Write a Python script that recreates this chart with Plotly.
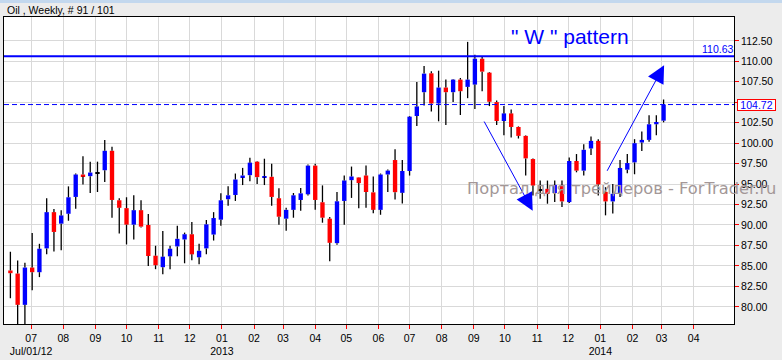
import plotly.graph_objects as go
import pandas as pd

# ---------------- data ----------------
title_text = "Oil , Weekly, # 91 / 101"
first_week = "2012-06-11"

opens = [84.44, 84.07, 80.24, 84.80, 84.23, 87.14, 91.57, 90.16, 91.37, 93.43,
         96.17, 95.97, 96.40, 96.69, 99.07, 93.02, 92.06, 90.04, 91.81, 90.00,
         86.25, 84.84, 86.17, 87.38, 88.23, 88.87, 86.05, 87.14, 88.83, 90.65,
         93.15, 93.67, 95.81, 96.09, 97.74, 95.85, 95.89, 93.27, 90.77, 91.85,
         93.06, 93.75, 97.26, 92.78, 90.77, 87.78, 92.94, 95.48, 95.81, 96.05,
         93.99, 91.85, 96.17, 97.94, 93.93, 96.60, 103.32, 106.23, 108.54, 104.85,
         106.80, 106.23, 107.77, 106.88, 107.16, 110.32, 108.62, 105.02, 102.71, 103.64,
         101.98, 100.89, 98.06, 94.30, 94.42, 93.90, 94.90, 92.80, 97.82, 96.64,
         99.35, 100.28, 94.05, 92.88, 93.81, 96.76, 97.65, 100.08, 100.40, 102.31,
         102.75]
highs = [86.73, 85.65, 85.40, 89.03, 87.70, 93.27, 91.94, 91.81, 94.72, 96.29,
         98.39, 97.74, 97.74, 100.40, 99.56, 93.27, 93.39, 93.63, 93.02, 91.33,
         87.46, 89.27, 87.46, 89.92, 89.07, 90.36, 87.70, 90.60, 91.57, 93.87,
         94.72, 96.29, 96.98, 98.23, 97.80, 98.10, 97.50, 94.48, 92.10, 93.91,
         94.52, 97.38, 97.50, 94.84, 90.97, 94.03, 96.05, 97.14, 95.85, 97.26,
         95.93, 96.29, 96.77, 99.27, 97.94, 103.32, 107.48, 109.43, 108.78, 108.86,
         107.77, 107.85, 107.97, 112.38, 110.80, 110.52, 108.70, 105.22, 104.53, 104.13,
         102.05, 100.95, 98.14, 95.43, 95.43, 95.43, 95.43, 98.26, 98.67, 99.88,
         100.81, 100.49, 94.62, 95.02, 97.94, 98.67, 100.49, 101.42, 103.40, 103.40,
         105.34]
lows = [81.05, 77.40, 77.60, 82.02, 83.63, 86.41, 86.77, 86.90, 90.52, 91.98,
        94.96, 93.91, 94.03, 95.24, 90.89, 88.95, 87.62, 88.23, 89.70, 85.00,
        84.60, 83.99, 84.60, 86.17, 85.32, 85.69, 85.20, 86.41, 88.10, 89.92,
        92.34, 92.94, 94.88, 95.36, 95.00, 94.88, 92.34, 90.04, 89.31, 90.89,
        91.73, 93.59, 91.85, 90.28, 85.56, 87.58, 90.04, 93.31, 92.06, 92.10,
        91.45, 91.25, 94.03, 93.12, 92.64, 96.04, 102.10, 104.61, 103.88, 102.67,
        102.22, 105.02, 103.44, 105.50, 104.17, 106.35, 104.53, 102.22, 100.97, 100.69,
        100.57, 96.04, 93.61, 93.20, 92.60, 92.80, 92.20, 92.68, 96.44, 96.04,
        98.54, 93.61, 91.18, 91.39, 93.41, 96.32, 96.20, 99.03, 100.16, 100.97,
        102.55]
closes = [84.11, 80.24, 84.80, 84.23, 87.10, 91.57, 89.15, 91.17, 93.39, 96.17,
          95.93, 96.41, 96.40, 99.07, 93.06, 92.10, 90.04, 91.81, 89.80, 86.21,
          85.08, 86.13, 87.10, 88.31, 88.87, 86.41, 86.85, 90.08, 90.85, 93.02,
          93.63, 95.56, 96.05, 97.62, 95.85, 95.95, 93.43, 91.01, 91.85, 93.63,
          93.87, 97.26, 93.06, 90.89, 87.82, 92.90, 95.44, 95.93, 95.12, 94.03,
          91.85, 96.17, 96.65, 94.01, 96.60, 103.24, 104.49, 108.50, 104.85, 106.80,
          106.23, 107.77, 106.35, 107.77, 110.32, 108.74, 105.06, 102.71, 103.64, 101.98,
          100.89, 98.14, 94.82, 94.30, 93.81, 94.90, 92.88, 97.82, 96.64, 99.19,
          100.28, 94.95, 92.88, 93.81, 96.97, 97.57, 100.00, 100.40, 102.31, 102.59,
          104.72]

resistance_level = 110.63
last_price = 104.72

y_tick_values = [80.0, 82.5, 85.0, 87.5, 90.0, 92.5, 95.0, 97.5, 100.0,
                 102.5, 105.0, 107.5, 110.0, 112.5]
month_tick_dates = ["2012-07-01", "2012-08-01", "2012-09-01", "2012-10-01",
                    "2012-11-01", "2012-12-01", "2013-01-01", "2013-02-01",
                    "2013-03-01", "2013-04-01", "2013-05-01", "2013-06-01",
                    "2013-07-01", "2013-08-01", "2013-09-01", "2013-10-01",
                    "2013-11-01", "2013-12-01", "2014-01-01", "2014-02-01",
                    "2014-03-01", "2014-04-01"]
month_tick_labels = ["07<br>Jul/01/12", "08", "09", "10", "11", "12", "01<br>2013",
                     "02", "03", "04", "05", "06", "07", "08", "09", "10", "11",
                     "12", "01<br>2014", "02", "03", "04"]

# "W" pattern arrows: (tail date, tail price) -> (tip date, tip price)
arrow_tail_dates = ["2013-09-10 04:00", "2014-01-06 19:00"]
arrow_tail_prices = [102.83, 96.44]
arrow_tip_dates = ["2013-10-27 18:00", "2014-03-03 12:00"]
arrow_tip_prices = [91.74, 109.53]

pattern_label = '" W " pattern'
watermark_text = "Портал для трейдеров - ForTrader.ru"

# ---------------- styling ----------------
UP = "#0000FF"
DOWN = "#FF0000"
FONT = "Liberation Sans, Arial, sans-serif"

dates = pd.date_range(first_week, periods=len(opens), freq="7D")

# wicks (drawn outside the body so bodies stay clean)
wx, wy = [], []
for d, o, h, l, c in zip(dates, opens, highs, lows, closes):
    top, bot = max(o, c), min(o, c)
    wx += [d, d, None, d, d, None]
    wy += [h, top, None, bot, l, None]

body_base, body_height, body_color = [], [], []
for o, c in zip(opens, closes):
    if abs(c - o) < 1e-9:
        body_base.append(o - 0.06)
        body_height.append(0.12)
        body_color.append("#000000")
    else:
        body_base.append(min(o, c))
        body_height.append(abs(c - o))
        body_color.append(UP if c > o else DOWN)

fig = go.Figure()
fig.add_trace(go.Scatter(x=wx, y=wy, mode="lines",
                         line=dict(color="#000000", width=1.3),
                         hoverinfo="skip", showlegend=False))
fig.add_trace(go.Bar(x=dates, y=body_height, base=body_base,
                     width=4.2 * 86400000,
                     marker=dict(color=body_color, line=dict(width=0)),
                     showlegend=False,
                     customdata=list(zip(opens, highs, lows, closes)),
                     hovertemplate="O %{customdata[0]}<br>H %{customdata[1]}"
                                   "<br>L %{customdata[2]}<br>C %{customdata[3]}<extra></extra>"))

# the 105.00 label is hidden behind the last-price box in the reference
y_tick_text = ["" if abs(v - 105.0) < 1e-9 else "%.2f" % v for v in y_tick_values]

fig.update_layout(
    width=782, height=360,
    margin=dict(l=3, r=48, t=17, b=34),
    paper_bgcolor="#ECECEC",
    plot_bgcolor="#FFFFFF",
    barmode="overlay",
    showlegend=False,
    font=dict(family=FONT, size=10.5, color="#000000"),
    xaxis=dict(
        type="date",
        range=["2012-06-04 20:00", "2014-05-09 22:00"],
        tickvals=month_tick_dates, ticktext=month_tick_labels,
        ticks="outside", ticklen=4, tickcolor=DOWN, tickwidth=1,
        showgrid=True, gridcolor="#D9D9D9", gridwidth=1,
        showline=True, linecolor="#000000", linewidth=1, mirror=True,
        zeroline=False, tickfont=dict(family=FONT, size=10.5, color="#000000"),
        fixedrange=True,
    ),
    yaxis=dict(
        side="right",
        range=[77.90, 115.42],
        tickvals=y_tick_values,
        ticktext=y_tick_text,
        ticks="outside", ticklen=4, tickcolor=DOWN, tickwidth=1,
        showgrid=True, gridcolor="#D9D9D9", gridwidth=1,
        showline=True, linecolor="#000000", linewidth=1, mirror=True,
        zeroline=False, tickfont=dict(family=FONT, size=10.5, color="#000000"),
        fixedrange=True,
    ),
)

shapes = [
    dict(type="rect", xref="paper", yref="paper", x0=-0.01, x1=1.07,
         y0=1.0453, y1=1.06, fillcolor="#C3D8EE", line=dict(width=0), layer="above"),
    dict(type="line", xref="paper", yref="y", x0=0, x1=1,
         y0=resistance_level, y1=resistance_level,
         line=dict(color=UP, width=2), layer="above"),
    dict(type="line", xref="paper", yref="y", x0=0, x1=1,
         y0=last_price, y1=last_price,
         line=dict(color=UP, width=1, dash="5px,3px"), layer="above"),
]
fig.update_layout(shapes=shapes)

annotations = [
    dict(text=title_text, xref="paper", yref="paper", x=0.0014, y=1.0227,
         xanchor="left", yanchor="middle", showarrow=False,
         font=dict(family=FONT, size=10.5, color="#000000")),
    dict(text=pattern_label, xref="paper", yref="paper", x=0.775, y=0.937,
         xanchor="center", yanchor="middle", showarrow=False,
         font=dict(family=FONT, size=21, color=UP)),
    dict(text="%.2f" % resistance_level, xref="paper", yref="y", x=1,
         y=resistance_level, xanchor="right", yanchor="bottom", showarrow=False,
         borderpad=0, font=dict(family=FONT, size=10.5, color=UP)),
    dict(text="%.2f" % last_price, xref="paper", yref="y", x=1, xshift=3,
         y=last_price, xanchor="left", yanchor="middle", showarrow=False,
         bgcolor="#FFFFFF", bordercolor=DOWN, borderwidth=1, borderpad=0,
         width=37, height=10,
         font=dict(family=FONT, size=10.5, color=UP)),
]
for td, tp, hd, hp in zip(arrow_tail_dates, arrow_tail_prices,
                          arrow_tip_dates, arrow_tip_prices):
    annotations.append(dict(
        x=hd, y=hp, ax=td, ay=tp, xref="x", yref="y", axref="x", ayref="y",
        text="", showarrow=True, arrowhead=2, arrowsize=3.5, arrowwidth=1,
        arrowcolor=UP, standoff=0))
annotations.append(dict(
    text=watermark_text, xref="paper", yref="paper", x=0.8457, y=0.44,
    xanchor="center", yanchor="middle", showarrow=False,
    font=dict(family="DejaVu Sans, sans-serif", size=16.3, color="#A39797")))
fig.update_layout(annotations=annotations)

fig.write_html("out.html")
